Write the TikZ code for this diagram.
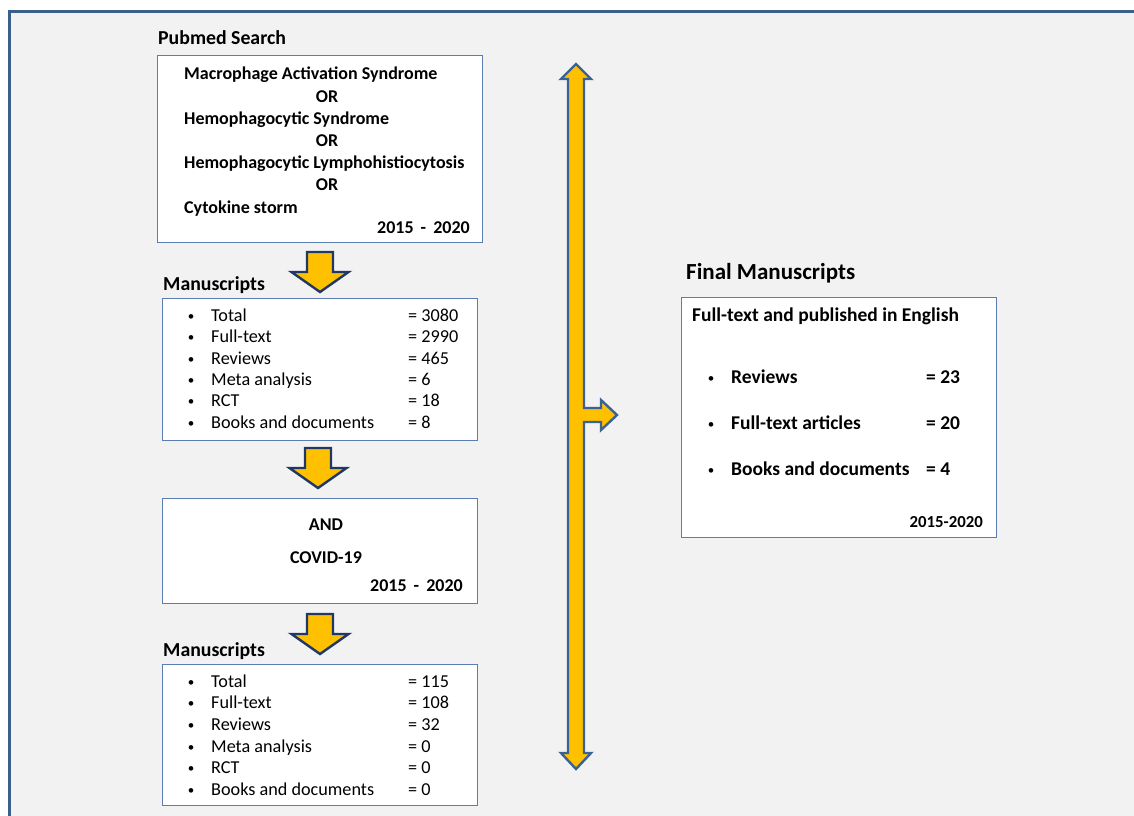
\documentclass[tikz,border=0pt]{standalone}
\usepackage{fontspec}
\setmainfont{Carlito}
\definecolor{bg}{HTML}{F2F2F2}
\definecolor{framec}{HTML}{3A5F8B}
\definecolor{boxline}{HTML}{5B7DB1}
\definecolor{gold}{HTML}{FFC000}
\definecolor{navy}{HTML}{203864}
\definecolor{arrowblue}{HTML}{3B6296}
\begin{document}
\begin{tikzpicture}[x=1pt,y=-1pt,
  box/.style={draw=boxline, line width=1.3, fill=white, inner sep=0, anchor=north west},
  txt/.style={inner sep=0, anchor=west, text height=0.7em, text depth=0.2em, yshift=-4pt},
  bt/.style={txt, font=\fontsize{18}{21}\selectfont\bfseries},
  rt/.style={txt, font=\fontsize{18.2}{21}\selectfont},
  bul/.style={font=\fontsize{13}{14}\selectfont, inner sep=0, anchor=center, yshift=-3pt},
  head/.style={txt, font=\fontsize{19.8}{23}\selectfont\bfseries},
  ft/.style={txt, font=\fontsize{19.5}{23}\selectfont\bfseries},
  blockdown/.pic={\filldraw[draw=navy, fill=gold, line width=2.4, line join=miter]
     (-13,0) -- (13,0) -- (13,20) -- (28.5,20) -- (0,40) -- (-28.5,20) -- (-13,20) -- cycle;}
]
\useasboundingbox (0,0) rectangle (1134,815);
\fill[white] (0,0) rectangle (1134,815);
\draw[framec, line width=3, fill=bg] (9,11) rectangle (1145,830);

% Pubmed search
\node[head] (pubt) at (158,38) {Pubmed Search};
\node[box, minimum width=325, minimum height=187] (search) at (157,55) {};
\node[bt] (s1) at (184,73) {Macrophage Activation Syndrome};
\node[bt, anchor=center] (o1) at (327,96) {OR};
\node[bt] (s2) at (184,118) {Hemophagocytic Syndrome};
\node[bt, anchor=center] (o2) at (327,140) {OR};
\node[bt] (s3) at (184,162) {Hemophagocytic Lymphohistiocytosis};
\node[bt, anchor=center] (o3) at (327,184) {OR};
\node[bt] (s4) at (184,207) {Cytokine storm};
\node[bt, anchor=east] (y1) at (470,227) {2015\,\ -\ \,2020};

\pic at (320,252) {blockdown};

% Manuscripts 1
\node[head] (m1t) at (163,284) {Manuscripts};
\node[box, minimum width=315, minimum height=142] (man1) at (162,298) {};
\foreach \yy/\lab/\val [count=\i] in {315/Total/3080, 336/Full-text/2990, 358/Reviews/465, 379/Meta analysis/6, 400/RCT/18, 422/Books and documents/8}{
  \node[bul] (m1b\i) at (191,\yy) {\textbullet};
  \node[rt] (m1l\i) at (211,\yy) {\lab};
  \node[rt] (m1v\i) at (408,\yy) {=\ \val};
}

\pic at (318,448) {blockdown};

% AND COVID
\node[box, minimum width=315, minimum height=105] (covid) at (162,498) {};
\node[bt, anchor=center] (and) at (326,524) {AND};
\node[bt, anchor=center] (cov) at (326,557) {COVID-19};
\node[bt, anchor=east] (y2) at (463,585) {2015\,\ -\ \,2020};

\pic at (320,614) {blockdown};

% Manuscripts 2
\node[head] (m2t) at (163,650) {Manuscripts};
\node[box, minimum width=315, minimum height=141] (man2) at (162,664) {};
\foreach \yy/\lab/\val [count=\i] in {681/Total/115, 702/Full-text/108, 724/Reviews/32, 746/Meta analysis/0, 767/RCT/0, 789/Books and documents/0}{
  \node[bul] (m2b\i) at (191,\yy) {\textbullet};
  \node[rt] (m2l\i) at (211,\yy) {\lab};
  \node[rt] (m2v\i) at (408,\yy) {=\ \val};
}

% big double arrow with branch
\filldraw[draw=arrowblue, fill=gold, line width=2.4, line join=miter]
  (576,64) -- (591,79) -- (584,79) -- (584,408) -- (601,408) -- (601,400) -- (617,415)
  -- (601,430) -- (601,422) -- (584,422) -- (584,753) -- (591,753) -- (576,769)
  -- (561,753) -- (568,753) -- (568,79) -- (561,79) -- cycle;

% Final manuscripts
\node[txt, font=\fontsize{23}{27}\selectfont\bfseries] (fmt) at (686,273) {Final Manuscripts};
\node[box, minimum width=315, minimum height=240] (final) at (681,297) {};
\node[ft] (f0) at (692,315) {Full-text and published in English};
\foreach \yy/\lab/\val [count=\i] in {377/Reviews/23, 423/Full-text articles/20, 469/Books and documents/4}{
  \node[bul] (fb\i) at (711,\yy) {\textbullet};
  \node[ft] (fl\i) at (731,\yy) {\lab};
  \node[ft] (fv\i) at (926,\yy) {=\ \val};
}
\node[ft, anchor=east, font=\fontsize{16.8}{20}\selectfont\bfseries] (y3) at (983,521) {2015-2020};
\end{tikzpicture}
\end{document}
